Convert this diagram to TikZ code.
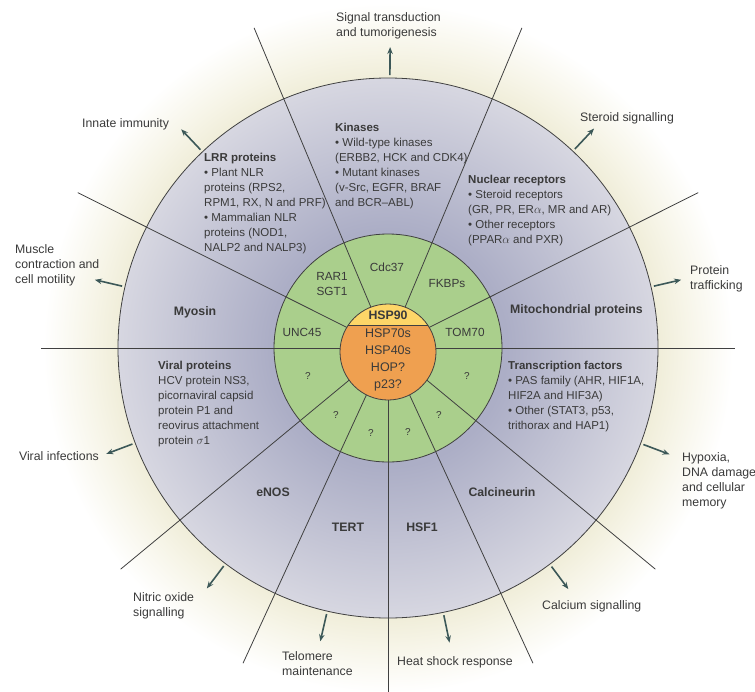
\documentclass[tikz,border=0pt]{standalone}
\usepackage{fontspec}
\setmainfont{Liberation Sans}
\usetikzlibrary{arrows.meta}

\definecolor{lavdark}{RGB}{172,174,198}
\definecolor{lavlight}{RGB}{215,215,225}
\definecolor{ringgreen}{RGB}{170,207,140}
\definecolor{coreorange}{RGB}{239,160,80}
\definecolor{capyellow}{RGB}{253,214,104}
\definecolor{arrowteal}{RGB}{60,88,88}
\definecolor{inktext}{RGB}{58,58,58}

\pgfdeclareradialshading{glowshade}{\pgfpoint{0bp}{0bp}}{rgb(0bp)=(0.94,0.93,0.85); rgb(19.5bp)=(0.94,0.93,0.85); rgb(21.5bp)=(0.965,0.958,0.905); rgb(25bp)=(1,1,1); rgb(50bp)=(1,1,1)}
\pgfdeclareradialshading{discshade}{\pgfpoint{0bp}{0bp}}{color(0bp)=(lavdark); color(11bp)=(lavdark); color(25bp)=(lavlight); color(50bp)=(lavlight)}

\tikzset{
  spoke/.style={color=black!75, line width=0.8pt},
  rim/.style={color=black!75, line width=0.8pt},
  outarrow/.style={arrowteal, line width=1.6pt, -{Stealth[length=7pt,width=5.5pt]}},
  effect/.style={inktext, align=left, inner sep=0pt, font=\fontsize{12.3}{15}\selectfont},
  clientlist/.style={effect, font=\fontsize{11.5}{15}\selectfont},
  client/.style={inktext, inner sep=0pt, font=\fontsize{12.3}{15}\selectfont\bfseries},
  cochap/.style={inktext, align=center, inner sep=0pt, font=\fontsize{11.8}{15}\selectfont},
  unknown/.style={inktext, inner sep=0pt, font=\fontsize{10}{12}\selectfont}
}

\begin{document}
\begin{tikzpicture}[x=1pt, y=1pt]
\useasboundingbox (0,0) rectangle (755,-691);

% the rings
\begin{scope}[shift={(388,-348)}]
\coordinate (c) at (0,0);
\shade[shading=glowshade] (c) circle (345);
\shade[shading=discshade] (c) circle (270);
\draw[rim] (c) circle (270);
\draw[rim, fill=ringgreen] (c) circle (114);

\foreach \a in {0,26.6,67.3,112.7,153.4,180,219.6,245.3,270,294.7,320.4}
  \draw[spoke] (c) -- ++(\a:347);

\coordinate (core) at (0,-4);
\fill[coreorange] (core) circle (48);
\begin{scope}
\clip (core) circle (48);
\fill[capyellow] (-50,23) rectangle (50,50);
\draw[rim] (-50,23) -- (50,23);
\end{scope}
\draw[rim] (core) circle (48);

% arrows to the outcomes
\foreach \n/\a in {sig/89.6, ster/46.8, prot/13.1, hyp/-20.7, calc/-53.2, heat/-78.2,
                   telo/-103, nitric/-127, viral/-159.4, muscle/166.9, innate/133.4}{
  \coordinate (\n A) at (\a:273);
  \coordinate (\n B) at (\a:301);
}
\end{scope}

\foreach \n in {sig,ster,prot,hyp,calc,heat,telo,nitric,viral,muscle,innate}
  \draw[outarrow] (\n A) -- (\n B);

% core and co-chaperones
\node[client] (hsp90) at (388,-315) {HSP90};
\node[cochap, font=\fontsize{12.5}{17}\selectfont] (hsp70) at (388,-360) {HSP70s\\HSP40s\\HOP?\\p23?};
\node[cochap] (cdc37) at (387,-267) {Cdc37};
\node[cochap] (rar1) at (332,-284) {RAR1\\SGT1};
\node[cochap] (fkbp) at (447,-283) {FKBPs};
\node[cochap] (unc45) at (302,-332) {UNC45};
\node[cochap] (tom70) at (465,-332) {TOM70};
\node[unknown] (q1) at (308,-376) {?};
\node[unknown] (q2) at (336,-415) {?};
\node[unknown] (q3) at (371,-433) {?};
\node[unknown] (q4) at (408,-432) {?};
\node[unknown] (q5) at (439,-415) {?};
\node[unknown] (q6) at (467,-376) {?};

% clients
\node[clientlist, anchor=north west] (kinase) at (335,-123)
  {{\bfseries Kinases}\\• Wild-type kinases\\(ERBB2, HCK and CDK4)\\• Mutant kinases\\(v-Src, EGFR, BRAF\\and BCR--ABL)};
\node[clientlist, anchor=north west] (lrr) at (204,-153)
  {{\bfseries LRR proteins}\\• Plant NLR\\proteins (RPS2,\\RPM1, RX, N and PRF)\\• Mammalian NLR\\proteins (NOD1,\\NALP2 and NALP3)};
\node[clientlist, anchor=north west] (nuclear) at (468,-175)
  {{\bfseries Nuclear receptors}\\• Steroid receptors\\(GR, PR, ER$\alpha$, MR and AR)\\• Other receptors\\(PPAR$\alpha$ and PXR)};
\node[clientlist, anchor=north west] (transcr) at (508,-361)
  {{\bfseries Transcription factors}\\• PAS family (AHR, HIF1A,\\HIF2A and HIF3A)\\• Other (STAT3, p53,\\trithorax and HAP1)};
\node[clientlist, anchor=north west] (viralp) at (158,-361)
  {{\bfseries Viral proteins}\\HCV protein NS3,\\picornaviral capsid\\protein P1 and\\reovirus attachment\\protein $\sigma$1};
\node[client] (myosin) at (195,-312) {Myosin};
\node[client, anchor=west] (mito) at (510,-310) {Mitochondrial proteins};
\node[client] (calcin) at (502,-492) {Calcineurin};
\node[client] (hsf1) at (422,-527) {HSF1};
\node[client] (tert) at (348,-527) {TERT};
\node[client] (enos) at (273,-492) {eNOS};

% outcomes
\node[effect, anchor=north west] (signal) at (336,-12) {Signal transduction\\and tumorigenesis};
\node[effect, anchor=north west] (steroid) at (580,-112) {Steroid signalling};
\node[effect, anchor=north west] (traffic) at (690,-265) {Protein\\trafficking};
\node[effect, anchor=north west] (hypoxia) at (682,-452) {Hypoxia,\\DNA damage\\and cellular\\memory};
\node[effect, anchor=north west] (calcium) at (542,-600) {Calcium signalling};
\node[effect, anchor=north west] (heat) at (397,-656) {Heat shock response};
\node[effect, anchor=north west] (telomere) at (282,-651) {Telomere\\maintenance};
\node[effect, anchor=north west] (nitric) at (133,-592) {Nitric oxide\\signalling};
\node[effect, anchor=north east] (infect) at (99,-451) {Viral infections};
\node[effect, anchor=north west] (muscle) at (15,-244) {Muscle\\contraction and\\cell motility};
\node[effect, anchor=north west] (innate) at (82,-118) {Innate immunity};

\end{tikzpicture}
\end{document}
